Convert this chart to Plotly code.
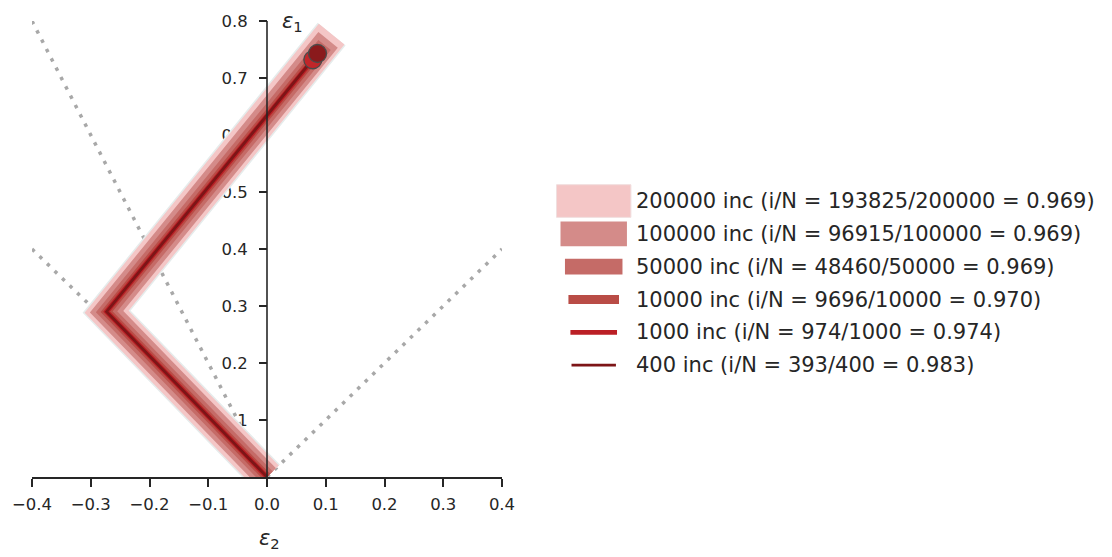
import plotly.graph_objects as go
from decimal import Decimal, ROUND_HALF_UP

# ---------------- data ----------------
N_INC = [200000, 100000, 50000, 10000, 1000, 400]
I_DONE = [193825, 96915, 48460, 9696, 974, 393]

# strain paths (eps2, eps1) for each run
PATH_E2 = [
    [0.0, -0.273, 0.110],
    [0.0, -0.273, 0.104],
    [0.0, -0.273, 0.098],
    [0.0, -0.273, 0.092],
    [0.0, -0.273, 0.078],
    [0.0, -0.273, 0.086],
]
PATH_E1 = [
    [0.0, 0.290, 0.777],
    [0.0, 0.290, 0.767],
    [0.0, 0.290, 0.758],
    [0.0, 0.290, 0.750],
    [0.0, 0.290, 0.732],
    [0.0, 0.290, 0.743],
]
END_MARKER = [False, False, False, False, True, True]

# guide (dotted) lines
GUIDE_E2 = [[-0.4, 0.0], [-0.4, 0.0], [0.0, 0.4]]
GUIDE_E1 = [[0.8, 0.0], [0.4, 0.0], [0.0, 0.4]]

X_TICKS = [-0.4, -0.3, -0.2, -0.1, 0.0, 0.1, 0.2, 0.3, 0.4]
Y_TICKS = [0.1, 0.2, 0.3, 0.4, 0.5, 0.6, 0.7, 0.8]

# ---------------- style ----------------
WIDTHS = [33, 25, 16, 9, 5, 2.8]
COLORS = ["#f4c6c6", "#d48b89", "#c56b67", "#b94c46", "#bb1f25", "#7d1517"]
MARKER_COLORS = ["#f4c6c6", "#d48b89", "#c56b67", "#b94c46", "#c0262a", "#8a1a1c"]
FONT = "DejaVu Sans"
INK = "#262626"

W, H = 1112, 557
L, R, T, B = 28, 502, 16, 477


def px(x):
    return (x - L) / (R - L)


def py(y):
    return (B - y) / (B - T)


fig = go.Figure()

for gx, gy in zip(GUIDE_E2, GUIDE_E1):
    fig.add_trace(go.Scatter(x=gx, y=gy, mode="lines",
                             line=dict(color="#a8a8a8", width=3.5, dash="3.5px,7px"),
                             hoverinfo="skip", showlegend=False))

for k, (xs, ys) in enumerate(zip(PATH_E2, PATH_E1)):
    if k == 0:
        fig.add_trace(go.Scatter(x=xs, y=ys, mode="lines",
                                 line=dict(color="#e6ecec", width=WIDTHS[k] + 3),
                                 hoverinfo="skip", showlegend=False))
    fig.add_trace(go.Scatter(x=xs, y=ys, mode="lines",
                             line=dict(color=COLORS[k], width=WIDTHS[k]),
                             showlegend=False))

for k, (xs, ys) in enumerate(zip(PATH_E2, PATH_E1)):
    if END_MARKER[k]:
        fig.add_trace(go.Scatter(x=[xs[-1]], y=[ys[-1]], mode="markers",
                                 marker=dict(color=MARKER_COLORS[k], size=18,
                                             line=dict(color="#4a4a4a", width=1.3)),
                                 showlegend=False))

# y-axis line drawn above the paths
fig.add_shape(type="line", x0=0, x1=0, y0=0, y1=0.8, xref="x", yref="y",
              line=dict(color=INK, width=1.6), layer="above")

# ---------------- manual legend ----------------
row0, dy_row = 198, 33.2
cx_sample, base_len = 594.5, 42
for k in range(len(N_INC)):
    cy = row0 + k * dy_row
    w = WIDTHS[k]
    half = (base_len + w) / 2
    fig.add_shape(type="rect", xref="paper", yref="paper",
                  x0=px(cx_sample - half), x1=px(cx_sample + half),
                  y0=py(cy - w / 2), y1=py(cy + w / 2),
                  fillcolor=COLORS[k],
                  line=dict(width=1 if k == 0 else 0, color="#f0dede"))
    ratio = (Decimal(I_DONE[k]) / Decimal(N_INC[k])).quantize(Decimal("0.001"), rounding=ROUND_HALF_UP)
    label = f"{N_INC[k]} inc (i/N = {I_DONE[k]}/{N_INC[k]} = {ratio})"
    fig.add_annotation(text=label, xref="paper", yref="paper",
                       x=px(635), y=py(cy), xanchor="left", yanchor="middle",
                       showarrow=False, font=dict(family=FONT, size=21, color=INK))

# axis labels
fig.add_annotation(text="<i>ε</i><sub>1</sub>", xref="paper", yref="paper",
                   x=px(291), y=py(17), xanchor="center", yanchor="middle",
                   showarrow=False, font=dict(family=FONT, size=21, color=INK))
fig.add_annotation(text="<i>ε</i><sub>2</sub>", xref="paper", yref="paper",
                   x=px(268), y=py(540), xanchor="center", yanchor="middle",
                   showarrow=False, font=dict(family=FONT, size=21, color=INK))

fig.update_layout(
    width=W, height=H,
    margin=dict(l=L, r=W - R, t=T, b=H - B, pad=0),
    paper_bgcolor="white", plot_bgcolor="white",
    showlegend=False,
    font=dict(family=FONT, color=INK),
    xaxis=dict(range=[-0.4, 0.4], tickvals=X_TICKS, tickformat=".1f",
               showgrid=False, zeroline=False, showline=True, linecolor=INK,
               linewidth=1.6, ticks="outside", ticklen=8, tickwidth=1.6,
               tickcolor=INK, tickfont=dict(family=FONT, size=16.5, color=INK),
               ticklabelstandoff=3,
               layer="above traces"),
    yaxis=dict(range=[0, 0.8], tickvals=Y_TICKS, tickformat=".1f",
               anchor="free", position=0.5,
               showgrid=False, zeroline=False, showline=False,
               ticks="outside", ticklen=8, tickwidth=1.6, tickcolor=INK,
               tickfont=dict(family=FONT, size=16.5, color=INK),
               ticklabelstandoff=8,
               layer="below traces"),
)

fig.write_html(
    "out.html",
    config={"displayModeBar": False},
    post_script="document.body.style.margin='0';document.body.style.padding='0';"
                "document.body.style.overflow='hidden';",
)
